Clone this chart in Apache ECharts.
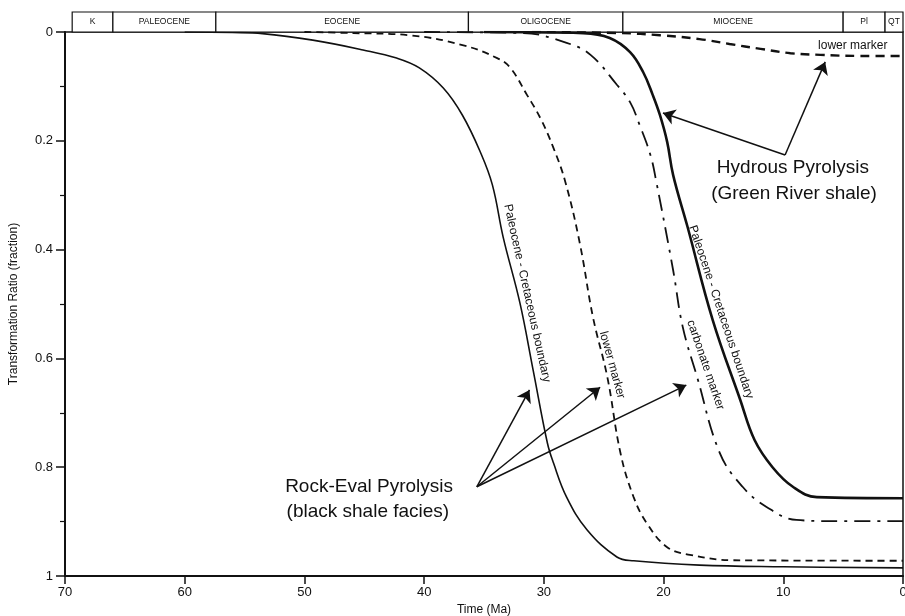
<!DOCTYPE html>
<html>
<head>
<meta charset="utf-8">
<script src="https://cdn.jsdelivr.net/npm/echarts@6/dist/echarts.min.js"></script>
<style>
  html, body { margin: 0; padding: 0; background: #fff; }
  #chart { width: 905px; height: 616px; }
</style>
</head>
<body>
<div id="chart"></div>
<script>
// Rock-Eval pyrolysis (black shale facies)
const reBoundaryMa = [60, 56, 53.5, 49.3, 45.1, 42.3, 40.4, 38.4, 36.8, 35.3, 34.3, 33.4, 32.0, 30.9, 29.7, 29.2, 28.1, 26.4, 23.9, 22.5, 17, 10, 0]
const reBoundaryTR = [0, 0.001, 0.003, 0.015, 0.033, 0.048, 0.066, 0.103, 0.153, 0.221, 0.281, 0.377, 0.498, 0.621, 0.756, 0.792, 0.855, 0.915, 0.965, 0.972, 0.98, 0.983, 0.985]

const reLowerMa = [50, 45.9, 41.2, 36.8, 33.9, 32.8, 31.4, 30.3, 29.2, 28.2, 27.0, 25.9, 24.7, 23.6, 22.5, 21.4, 19.7, 17.8, 14.2, 0]
const reLowerTR = [0, 0.002, 0.006, 0.024, 0.048, 0.066, 0.116, 0.158, 0.213, 0.276, 0.388, 0.524, 0.634, 0.774, 0.855, 0.903, 0.947, 0.961, 0.971, 0.972]

const reCarbMa = [40, 31.7, 28.1, 26.1, 23.9, 22.8, 22.0, 21.1, 20.6, 19.2, 18.4, 17.2, 15.3, 13.4, 11.4, 8.9, 5.9, 0]
const reCarbTR = [0, 0.002, 0.02, 0.042, 0.097, 0.129, 0.171, 0.226, 0.276, 0.438, 0.542, 0.634, 0.774, 0.836, 0.873, 0.897, 0.899, 0.899]

// Hydrous pyrolysis (Green River shale)
const hyBoundaryMa = [35, 26.7, 24.5, 22.8, 21.7, 20.9, 20.3, 19.7, 19.2, 18.0, 15.9, 13.6, 12.4, 10.9, 9.2, 7.2, 0]
const hyBoundaryTR = [0, 0.002, 0.011, 0.037, 0.074, 0.116, 0.153, 0.202, 0.263, 0.358, 0.529, 0.676, 0.75, 0.8, 0.836, 0.855, 0.857]

const hyLowerMa = [31, 23.6, 20.3, 17, 14.5, 11.9, 9.4, 6.9, 3.6, 0]
const hyLowerTR = [0, 0.002, 0.006, 0.013, 0.022, 0.031, 0.039, 0.042, 0.044, 0.044]

// epoch band (Ma)
const epochNames = ['K', 'PALEOCENE', 'EOCENE', 'OLIGOCENE', 'MIOCENE', 'Pl', 'QT']
const epochStart = [69.4, 66, 57.4, 36.3, 23.4, 5.0, 1.5]
const epochEnd = [66, 57.4, 36.3, 23.4, 5.0, 1.5, 0]

// arrows: [fromMa, fromTR, toMa, toTR]
const arrows = [
    [35.6, 0.836, 31.2, 0.658],
    [35.6, 0.836, 25.3, 0.653],
    [35.6, 0.836, 18.1, 0.649],
    [9.85, 0.226, 20.05, 0.149],
    [9.85, 0.226, 6.5, 0.055],
]

const ink = '#111'
const font = '"Liberation Sans", Arial, Helvetica, sans-serif'

const zip = (a, b) => a.map((v, i) => [v, b[i]])

const curve = (data, width, type) => ({
    type: 'line',
    xAxisIndex: 0,
    yAxisIndex: 0,
    data: data,
    smooth: 0.4,
    symbol: 'none',
    silent: true,
    lineStyle: { color: ink, width: width, type: type },
    z: 3,
})

const chart = echarts.init(document.getElementById('chart'))

let option = {
    animation: false,
    backgroundColor: '#fff',
    grid: [
        {
            left: 65, right: 2, top: 32, bottom: 40, outerBoundsMode: 'none',
            show: true, borderColor: ink, borderWidth: 1.5,
        },
        { left: 65, right: 2, top: 12, height: 20, outerBoundsMode: 'none' },
    ],
    xAxis: [
        {
            type: 'value', gridIndex: 0, min: 0, max: 70, interval: 10, inverse: true,
            name: 'Time (Ma)', nameLocation: 'middle', nameGap: 27,
            nameTextStyle: { color: ink, fontSize: 12, fontFamily: font },
            axisLine: { onZero: false, lineStyle: { color: ink, width: 2 } },
            axisTick: { length: 8, lineStyle: { color: ink, width: 1.5 } },
            axisLabel: { color: ink, fontSize: 13, fontFamily: font, margin: 10 },
            splitLine: { show: false },
        },
        {
            type: 'value', gridIndex: 1, min: 0, max: 70, inverse: true, show: false,
        },
    ],
    yAxis: [
        {
            type: 'value', gridIndex: 0, min: 0, max: 1, interval: 0.2, inverse: true,
            name: 'Transformation Ratio (fraction)', nameLocation: 'middle', nameGap: 45,
            nameTextStyle: { color: ink, fontSize: 12, fontFamily: font },
            axisLine: { onZero: false, lineStyle: { color: ink, width: 2 } },
            axisTick: { length: 9, lineStyle: { color: ink, width: 1.5 } },
            minorTick: { show: true, splitNumber: 2, length: 5, lineStyle: { color: ink, width: 1.2 } },
            axisLabel: { color: ink, fontSize: 13, fontFamily: font, margin: 12 },
            splitLine: { show: false },
        },
        { type: 'value', gridIndex: 1, min: 0, max: 1, show: false },
    ],
    series: [
        curve(zip(reBoundaryMa, reBoundaryTR), 1.6, 'solid'),
        curve(zip(reLowerMa, reLowerTR), 1.8, [7, 5]),
        curve(zip(reCarbMa, reCarbTR), 1.8, [16, 7, 3, 7]),
        curve(zip(hyBoundaryMa, hyBoundaryTR), 2.6, 'solid'),
        curve(zip(hyLowerMa, hyLowerTR), 2.4, [9, 6]),
        {
            // arrows
            type: 'line', xAxisIndex: 0, yAxisIndex: 0, data: [], silent: true,
            markLine: {
                silent: true,
                symbol: ['none', 'arrow'],
                symbolSize: 12,
                label: { show: false },
                lineStyle: { color: ink, width: 1.5, type: 'solid' },
                data: arrows.map(a => [{ coord: [a[0], a[1]] }, { coord: [a[2], a[3]] }]),
            },
        },
        {
            // epoch band
            type: 'line', xAxisIndex: 1, yAxisIndex: 1, data: [], silent: true,
            markArea: {
                silent: true,
                itemStyle: { color: '#fff', borderColor: ink, borderWidth: 1.2 },
                label: { show: true, position: 'inside', color: ink, fontSize: 8.5, fontFamily: font },
                data: epochNames.map((n, i) => [
                    { name: n, coord: [epochStart[i], 0] },
                    { coord: [epochEnd[i], 1] },
                ]),
            },
        },
    ],
}
chart.setOption(option)

// text annotations, placed in data space
const px = (ma, tr) => chart.convertToPixel({ gridIndex: 0 }, [ma, tr])
const deg = Math.PI / 180
const note = (ma, tr, text, size, rot) => {
    const p = px(ma, tr)
    return {
        type: 'text', x: p[0], y: p[1], rotation: (rot || 0) * deg, z: 10,
        style: {
            text: text, fill: ink, fontSize: size, fontFamily: font,
            align: 'center', verticalAlign: 'middle',
        },
    }
}
chart.setOption({
    graphic: [
        note(31.4, 0.48, 'Paleocene - Cretaceous boundary', 12, -77.5),
        note(24.3, 0.612, 'lower marker', 12, -74.5),
        note(16.5, 0.612, 'carbonate marker', 12, -71),
        note(15.2, 0.515, 'Paleocene - Cretaceous boundary', 12, -71.5),
        note(4.2, 0.026, 'lower marker', 12, 0),
        note(9.2, 0.25, 'Hydrous Pyrolysis', 19),
        note(9.1, 0.297, '(Green River shale)', 19),
        note(44.6, 0.836, 'Rock-Eval Pyrolysis', 19),
        note(44.7, 0.882, '(black shale facies)', 19),
    ],
})
</script>
</body>
</html>
